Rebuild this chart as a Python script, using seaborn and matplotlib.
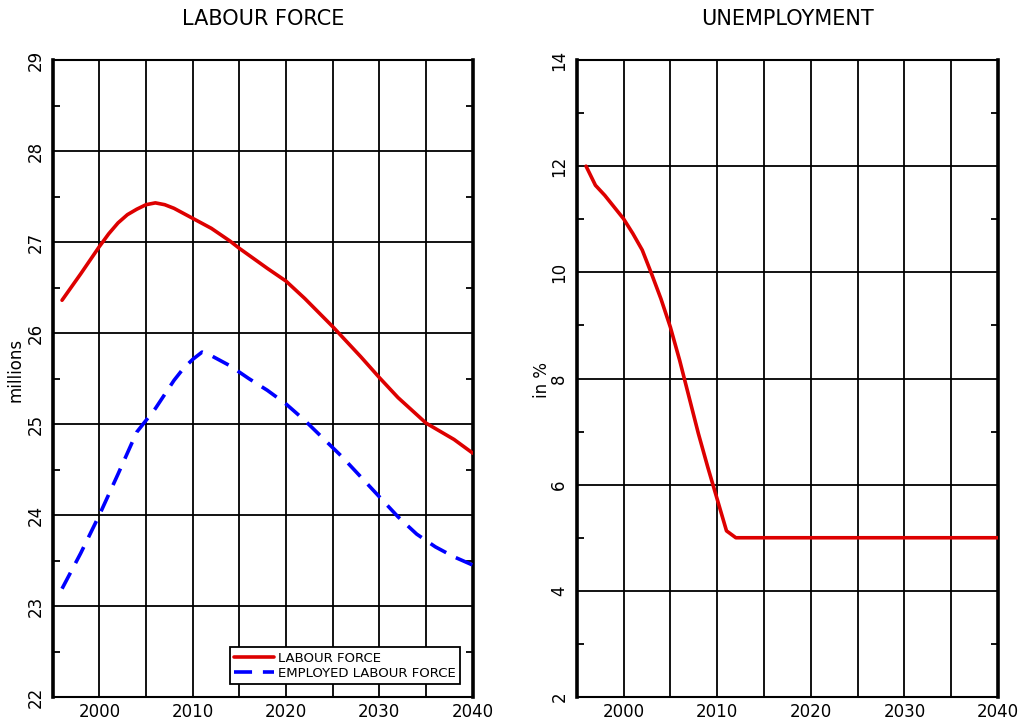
import numpy as np
import pandas as pd
import matplotlib
matplotlib.use("Agg")
import matplotlib.pyplot as plt
from matplotlib.ticker import MultipleLocator
import seaborn as sns

# ---- data ----
lf_years = [1996, 1998, 2000, 2001, 2002, 2003, 2004, 2005, 2006, 2007, 2008, 2010, 2012,
            2014, 2015, 2018, 2020, 2022, 2025, 2028, 2030, 2032, 2035, 2038, 2040]
lf_values = [26.36, 26.65, 26.95, 27.09, 27.21, 27.30, 27.36, 27.41, 27.43, 27.41, 27.37,
             27.26, 27.15, 27.01, 26.93, 26.71, 26.57, 26.38, 26.07, 25.74, 25.51, 25.29,
             25.01, 24.83, 24.68]

emp_years = [1996, 1998, 2000, 2002, 2004, 2005, 2006, 2008, 2009, 2010, 2011, 2012, 2014,
             2016, 2018, 2020, 2022, 2024, 2026, 2028, 2030, 2032, 2034, 2036, 2038, 2040]
emp_values = [23.19, 23.58, 24.00, 24.45, 24.91, 25.04, 25.17, 25.48, 25.61, 25.71, 25.79,
              25.75, 25.64, 25.50, 25.37, 25.22, 25.04, 24.84, 24.64, 24.42, 24.20, 23.98,
              23.79, 23.65, 23.54, 23.45]

un_years = [1996, 1997, 1998, 2000, 2001, 2002, 2003, 2004, 2005, 2006, 2007, 2008, 2009,
            2010, 2011, 2012, 2020, 2030, 2040]
un_values = [12.0, 11.64, 11.45, 11.01, 10.73, 10.42, 9.97, 9.50, 8.97, 8.34, 7.65, 6.96,
             6.33, 5.73, 5.13, 5.0, 5.0, 5.0, 5.0]

x_ticks = [2000, 2010, 2020, 2030, 2040]
panel_titles = ["LABOUR FORCE", "UNEMPLOYMENT"]
series_names = ["LABOUR FORCE", "EMPLOYED LABOUR FORCE"]

sns.set_style("white")
plt.rcParams['font.family'] = ['DejaVu Sans']
plt.rcParams['text.color'] = 'black'
plt.rcParams['axes.labelcolor'] = 'black'
plt.rcParams['xtick.color'] = 'black'
plt.rcParams['ytick.color'] = 'black'

fig = plt.figure(figsize=(10.23, 7.24), dpi=100)
W, H = 1023, 724
ax1 = fig.add_axes([52.7 / W, (H - 697) / H, 420 / W, 637 / H])
ax2 = fig.add_axes([576.7 / W, (H - 697) / H, 421.3 / W, 637 / H])

lf_df = pd.DataFrame({"year": lf_years, "value": lf_values})
emp_df = pd.DataFrame({"year": emp_years, "value": emp_values})
un_df = pd.DataFrame({"year": un_years, "value": un_values})

sns.lineplot(data=lf_df, x="year", y="value", ax=ax1, color="#dd0000", lw=2.6,
             label=series_names[0], zorder=5)
sns.lineplot(data=emp_df, x="year", y="value", ax=ax1, color="#0000ff", lw=2.6,
             label=series_names[1], zorder=5)
ax1.lines[1].set_dashes([5.0, 3.0])
sns.lineplot(data=un_df, x="year", y="value", ax=ax2, color="#dd0000", lw=2.6, zorder=5)

for ax, ylim, ymaj, ymin in [(ax1, (22, 29), 1, 0.5), (ax2, (2, 14), 2, 1)]:
    ax.set_xlim(1995, 2040)
    ax.set_ylim(*ylim)
    ax.set_xticks(x_ticks)
    ax.xaxis.set_minor_locator(MultipleLocator(5))
    ax.yaxis.set_major_locator(MultipleLocator(ymaj))
    ax.yaxis.set_minor_locator(MultipleLocator(ymin))
    ax.grid(True, which="major", axis="y", color="black", lw=1.3)
    ax.grid(True, which="both", axis="x", color="black", lw=1.3)
    ax.tick_params(axis="x", which="both", length=0, labelsize=12, pad=4)
    ax.tick_params(axis="y", which="major", length=0, labelsize=12, pad=6)
    ax.tick_params(axis="y", which="minor", direction="in", length=5, width=1.3,
                   left=True, right=True)
    for lab in ax.get_yticklabels():
        lab.set_rotation(90)
        lab.set_va("center")
    for s in ["left", "right"]:
        ax.spines[s].set_linewidth(2.6)
    for s in ["top", "bottom"]:
        ax.spines[s].set_linewidth(1.5)
    for s in ax.spines.values():
        s.set_color("black")
    ax.set_xlabel("")
    ax.set_facecolor("white")

ax1.set_ylabel("millions", fontsize=12)
ax1.yaxis.set_label_coords(-0.068, 0.513)
ax2.set_ylabel("in %", fontsize=12)
ax2.yaxis.set_label_coords(-0.061, 0.498)

ax1.set_title(panel_titles[0], fontsize=15, pad=25)
ax2.set_title(panel_titles[1], fontsize=15, pad=25)

leg = ax1.legend(loc="lower right", bbox_to_anchor=(0.970, 0.020), borderaxespad=0,
                 fontsize=9.5, frameon=True, fancybox=False, framealpha=1,
                 edgecolor="black", handlelength=3.0, handletextpad=0.3,
                 borderpad=0.35, labelspacing=0.15)
leg.get_frame().set_linewidth(1.3)

fig.savefig("out.png", dpi=100, facecolor="white")
